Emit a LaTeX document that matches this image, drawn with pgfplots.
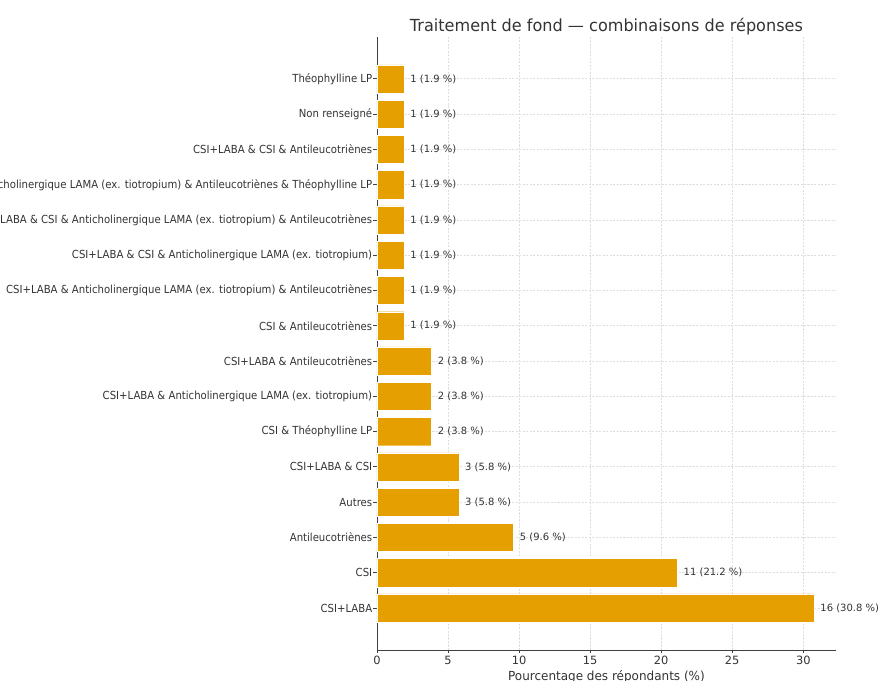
\documentclass[border=0pt]{standalone}
\usepackage{pgfplots}
\pgfplotsset{compat=1.18}
\usepackage{pgfplotstable}
\usepackage{fontspec}
\setmainfont{DejaVu Sans}
\definecolor{barc}{HTML}{E69F00}
\definecolor{txt}{HTML}{333333}
\pgfplotstableread[col sep=comma]{
idx,val,lab
0,30.77,16 (30.8 \%)
1,21.15,11 (21.2 \%)
2,9.62,5 (9.6 \%)
3,5.77,3 (5.8 \%)
4,5.77,3 (5.8 \%)
5,3.85,2 (3.8 \%)
6,3.85,2 (3.8 \%)
7,3.85,2 (3.8 \%)
8,1.92,1 (1.9 \%)
9,1.92,1 (1.9 \%)
10,1.92,1 (1.9 \%)
11,1.92,1 (1.9 \%)
12,1.92,1 (1.9 \%)
13,1.92,1 (1.9 \%)
14,1.92,1 (1.9 \%)
15,1.92,1 (1.9 \%)
}\datatable
\begin{document}
\begin{tikzpicture}
\begin{axis}[
  name=ax,
  scale only axis,
  width=330.5pt, height=441.4pt,
  xmin=0, xmax=32.3,
  ymin=-1.19, ymax=16.19,
  axis x line*=bottom, axis y line*=left,
  axis line style={black!75, line width=0.6pt},
  xtick={0,5,...,30},
  ytick={0,...,15},
  yticklabels={CSI+LABA, CSI, Antileucotriènes, Autres, CSI+LABA \& CSI, CSI \& Théophylline LP, CSI+LABA \& Anticholinergique LAMA (ex. tiotropium), CSI+LABA \& Antileucotriènes, CSI \& Antileucotriènes, CSI+LABA \& Anticholinergique LAMA (ex. tiotropium) \& Antileucotriènes, CSI+LABA \& CSI \& Anticholinergique LAMA (ex. tiotropium), CSI+LABA \& CSI \& Anticholinergique LAMA (ex. tiotropium) \& Antileucotriènes, CSI+LABA \& Anticholinergique LAMA (ex. tiotropium) \& Antileucotriènes \& Théophylline LP, CSI+LABA \& CSI \& Antileucotriènes, Non renseigné, Théophylline LP},
  tick align=outside,
  major tick length=2.5pt,
  tick style={black!75, line width=0.6pt},
  xtick pos=bottom, ytick pos=left,
  /pgf/number format/assume math mode=true,
  ticklabel style={font=\fontsize{8.2}{10}\selectfont, text=txt},
  xticklabel style={inner sep=1.5pt},
  yticklabel style={font=\fontsize{8}{10}\selectfont, xscale=0.91, inner sep=0.8pt},
  grid=major,
  grid style={dash pattern=on 1.5pt off 1pt, black!13, line width=0.6pt},
  xlabel={Pourcentage des répondants (\%)},
  xlabel style={font=\fontsize{9}{11}\selectfont, xscale=0.96, text=txt, yshift=1pt},
  title={Traitement de fond — combinaisons de réponses},
  title style={font=\fontsize{12}{14}\selectfont, xscale=0.965, text=txt, yshift=-8pt},
  xbar, bar width=0.8,
  point meta=explicit symbolic,
  nodes near coords,
  nodes near coords style={font=\fontsize{7.2}{9}\selectfont, text=txt, anchor=west, xshift=1pt},
]
\addplot[fill=barc, draw=white, line width=0.3pt, bar shift=0pt] table[x=val, y=idx, meta=lab] {\datatable};
\end{axis}
\pgfresetboundingbox
\path[use as bounding box] ([shift={(-271.4pt,-22.3pt)}]ax.south west) rectangle ++(632.9pt,490.3pt);
\end{tikzpicture}
\end{document}
